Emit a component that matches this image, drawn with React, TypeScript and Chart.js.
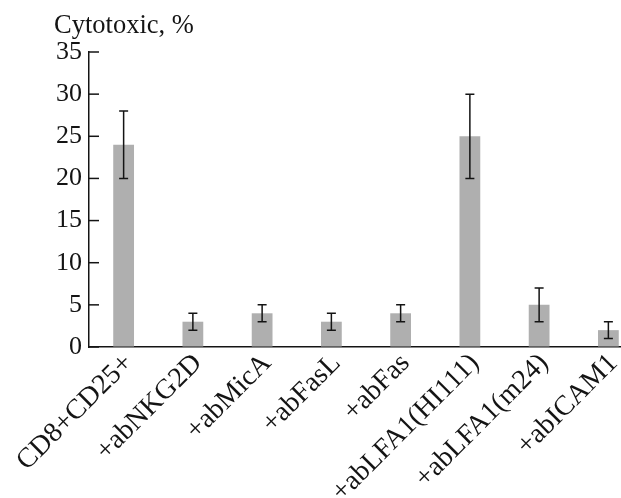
import { useEffect, useRef } from "react";
import { Chart, registerables } from "chart.js";

Chart.register(...registerables);

const categories = [
  "CD8+CD25+",
  "+abNKG2D",
  "+abMicA",
  "+abFasL",
  "+abFas",
  "+abLFA1(HI111)",
  "+abLFA1(m24)",
  "+abICAM1",
];
const values = [24, 3, 4, 3, 4, 25, 5, 2];
const errLow = [20, 2, 3, 2, 3, 20, 3, 1];
const errHigh = [28, 4, 5, 4, 5, 30, 7, 3];
const yMin = 0;
const yMax = 35;
const yStep = 5;
const yTitle = "Cytotoxic, %";

const FONT = "'Liberation Serif', 'Times New Roman', serif";
const INK = "#141414";

export default function App() {
  const ref = useRef<HTMLCanvasElement>(null);

  useEffect(() => {
    const canvas = ref.current;
    if (!canvas) return;
    let chart: any = null;
    let cancelled = false;

    const errorBars = {
      id: "errorBars",
      afterDatasetsDraw(c: any) {
        const ctx = c.ctx;
        const meta = c.getDatasetMeta(0);
        const ys = c.scales.y;
        ctx.save();
        ctx.strokeStyle = INK;
        ctx.lineWidth = 1.5;
        meta.data.forEach((bar: any, i: number) => {
          const x = bar.x;
          const yl = ys.getPixelForValue(errLow[i]);
          const yh = ys.getPixelForValue(errHigh[i]);
          const cap = 4.5;
          ctx.beginPath();
          ctx.moveTo(x, yl);
          ctx.lineTo(x, yh);
          ctx.moveTo(x - cap, yh);
          ctx.lineTo(x + cap, yh);
          ctx.moveTo(x - cap, yl);
          ctx.lineTo(x + cap, yl);
          ctx.stroke();
        });
        ctx.restore();
      },
    };

    const innerTicks = {
      id: "innerTicks",
      afterDraw(c: any) {
        const ctx = c.ctx;
        const ys = c.scales.y;
        const left = c.chartArea.left;
        ctx.save();
        ctx.strokeStyle = INK;
        ctx.lineWidth = 1.5;
        ys.ticks.forEach((t: any) => {
          const y = ys.getPixelForValue(t.value);
          ctx.beginPath();
          ctx.moveTo(left, y);
          ctx.lineTo(left + 10, y);
          ctx.stroke();
        });
        ctx.fillStyle = INK;
        ctx.font = `26.5px ${FONT}`;
        ctx.textAlign = "left";
        ctx.textBaseline = "alphabetic";
        ctx.fillText(yTitle, left - 35, c.chartArea.top - 19);
        ctx.restore();
      },
    };

    const build = () => {
      if (cancelled) return;
      chart = new Chart(canvas, {
        type: "bar",
        data: {
          labels: categories,
          datasets: [
            {
              data: values,
              backgroundColor: "#afafaf",
              barPercentage: 0.3,
              categoryPercentage: 1,
            },
          ],
        },
        options: {
          responsive: false,
          animation: false,
          layout: { padding: { left: 0, right: 17, top: 52, bottom: 0 } },
          plugins: {
            legend: { display: false },
            tooltip: { enabled: false },
            title: { display: false },
          },
          scales: {
            x: {
              grid: { display: true, drawOnChartArea: false, drawTicks: false },
              border: { display: true, color: INK, width: 1.5 },
              ticks: {
                font: { family: FONT, size: 28 },
                color: INK,
                minRotation: 45,
                maxRotation: 45,
                autoSkip: false,
                padding: 0,
                labelOffset: 5,
              },
              afterFit: (s: any) => {
                s.height = 151;
              },
            },
            y: {
              min: yMin,
              max: yMax,
              grid: { display: true, drawOnChartArea: false, drawTicks: false },
              border: { display: true, color: INK, width: 1.5 },
              ticks: {
                stepSize: yStep,
                font: { family: FONT, size: 26 },
                color: INK,
                padding: 7,
              },
              afterFit: (s: any) => {
                s.width = 89;
              },
            },
          },
        },
        plugins: [errorBars, innerTicks],
      });
    };

    const fonts: any = (document as any).fonts;
    if (fonts && fonts.load) {
      Promise.all([
        fonts.load("26px 'Liberation Serif'"),
        fonts.load("28px 'Liberation Serif'"),
      ])
        .catch(() => null)
        .then(build);
    } else {
      build();
    }

    return () => {
      cancelled = true;
      if (chart) chart.destroy();
    };
  }, []);

  return (
    <div
      style={{
        position: "absolute",
        left: 0,
        top: 0,
        width: 621,
        height: 498,
        overflow: "hidden",
        background: "#fff",
      }}
    >
      <canvas ref={ref} width={660} height={498} style={{ display: "block" }} />
    </div>
  );
}
